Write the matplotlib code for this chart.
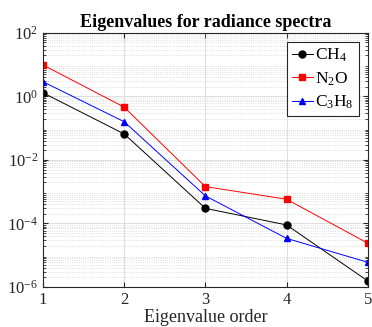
import matplotlib
matplotlib.use("Agg")
import matplotlib.pyplot as plt
from matplotlib.ticker import LogLocator, NullFormatter

plt.rcParams['font.family'] = ['Liberation Serif', 'DejaVu Serif']
plt.rcParams['mathtext.fontset'] = 'custom'
plt.rcParams['mathtext.rm'] = 'Liberation Serif'
plt.rcParams['mathtext.it'] = 'Liberation Serif:italic'
plt.rcParams['mathtext.bf'] = 'Liberation Serif:bold'

order = [1, 2, 3, 4, 5]
ch4 = [1.3, 0.066, 3.0e-4, 9.0e-5, 1.55e-6]
n2o = [9.8, 0.46, 1.45e-3, 5.8e-4, 2.4e-5]
c3h8 = [2.9, 0.16, 7.4e-4, 3.4e-5, 6.0e-6]
labels = ['CH$_4$', 'N$_2$O', 'C$_3$H$_8$']

fig = plt.figure(figsize=(3.72, 3.27), dpi=100)
ax = fig.add_axes([0.1156, 0.1223, 0.873, 0.777])

ax.semilogy(order, ch4, color='black', marker='o', ms=5, lw=0.7, label=labels[0])
ax.semilogy(order, n2o, color='red', marker='s', ms=4.5, lw=0.7, label=labels[1])
ax.semilogy(order, c3h8, color='blue', marker='^', ms=5, lw=0.7, label=labels[2])

ax.set_xlim(1, 5)
ax.set_ylim(1e-6, 1e2)
ax.set_xticks(order)
ax.set_yticks([1e-6, 1e-4, 1e-2, 1e0, 1e2])
ax.yaxis.set_minor_locator(LogLocator(base=10, subs=range(2, 10), numticks=20))
ax.yaxis.set_minor_formatter(NullFormatter())

ax.grid(True, which='major', color='#dddddd', lw=0.7)
ax.grid(True, which='minor', axis='y', color='#d5d5d5', lw=0.6, ls=':')
ax.set_axisbelow(True)

ax.tick_params(which='both', direction='in', top=True, right=True, labelsize=12, colors='#262626')
ax.tick_params(which='minor', length=2)
for s in ax.spines.values():
    s.set_color('#262626')
    s.set_linewidth(0.8)

ax.set_title('Eigenvalues for radiance spectra', fontsize=13, fontweight='bold', pad=4)
ax.set_xlabel('Eigenvalue order', fontsize=13, labelpad=1, color='#262626')

leg = ax.legend(loc='upper right', fontsize=12.5, fancybox=False, framealpha=1,
                edgecolor='#262626', handlelength=1.2, handletextpad=0.15,
                borderpad=0.3, labelspacing=0.35, borderaxespad=0.5)
leg.get_frame().set_linewidth(0.8)

fig.savefig('out.png', dpi=100)
